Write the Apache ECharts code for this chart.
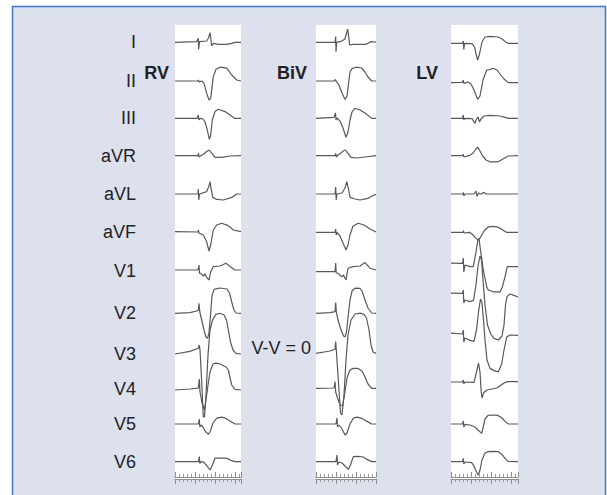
<!DOCTYPE html>
<html><head><meta charset="utf-8">
<script src="https://cdn.jsdelivr.net/npm/echarts@6/dist/echarts.min.js"></script>
<style>html,body{margin:0;padding:0;background:#fff}#c{width:607px;height:495px}</style>
</head><body><div id="c"></div>
<script>
// ---------- DATA ----------
const leads = ['I','II','III','aVR','aVL','aVF','V1','V2','V3','V4','V5','V6'];
const panels = ['RV','BiV','LV'];
const durations = [660, 600, 670]; // ms shown in each strip
const annotation = 'V-V = 0';
// each trace: [time (ms), amplitude (mV)]
const rvI = [[0,-0.02],[217,0.02],[233,0.19],[236,-0.37],[245,0.02],[317,0.05],[335,0.2],[350,0.47],[360,0.1],[367,-0.2],[383,-0.07],[433,-0.12],[517,-0.12],[567,-0.07],[600,-0.02],[660,-0.02]];
const rvII = [[0,0],[230,0],[235,0.05],[240,-0.05],[267,0],[290,-0.12],[317,-0.62],[340,-0.95],[357,-0.87],[383,0.22],[410,0.59],[450,0.69],[517,0.64],[567,0.3],[617,0.05],[660,0]];
const rvIII = [[0,-0.02],[220,-0.02],[233,0.15],[238,-0.1],[250,-0.02],[280,-0.05],[300,-0.19],[323,-0.6],[343,-1.07],[357,-0.85],[373,-0.1],[400,0.32],[433,0.44],[500,0.32],[550,0.15],[600,-0.02],[660,-0.02]];
const rvAVR = [[0,0.02],[230,0.02],[235,0.15],[240,-0.05],[283,0.09],[317,0.22],[343,0.3],[367,0.14],[400,-0.07],[467,-0.07],[550,0],[660,0.02]];
const rvAVL = [[0,0],[230,0],[233,0.25],[238,-0.3],[245,0],[317,0.12],[340,0.4],[350,0.62],[360,0.29],[377,-0.17],[417,-0.27],[483,-0.3],[567,-0.17],[617,0],[660,0]];
const rvAVF = [[0,0.02],[230,0],[233,0.1],[240,-0.05],[283,-0.15],[317,-0.49],[340,-0.95],[357,-0.65],[383,0.1],[417,0.35],[467,0.44],[533,0.32],[583,0.1],[660,0.02]];
const rvV1 = [[0,0.05],[230,0.05],[240,0.3],[245,-0.12],[257,-0.12],[283,-0.25],[300,-0.15],[317,-0.32],[340,-0.45],[357,-0.04],[383,0.22],[450,0.25],[510,0.39],[550,0.22],[600,0.05],[660,0.05]];
const rvV2 = [[0,-0.02],[150,0.02],[217,0.1],[235,0.15],[240,0.49],[248,0.05],[267,-0.35],[290,-0.85],[310,-1.2],[325,-1.27],[340,-1.0],[355,-0.1],[370,0.85],[390,1.18],[450,1.25],[520,1.2],[545,1.0],[570,0.5],[590,0.15],[610,0],[660,-0.02]];
const rvV3 = [[0,0],[150,0.13],[233,0.29],[243,0.45],[250,0.2],[265,-1.2],[283,-3.15],[295,-3.15],[310,-2.05],[330,-0.05],[350,1.2],[375,1.7],[410,1.98],[450,2.04],[490,1.95],[515,1.7],[533,1.2],[555,0.6],[580,0.2],[610,0.03],[660,0]];
const rvV4 = [[0,-0.05],[150,0],[233,0.04],[243,0.5],[250,-0.15],[270,-0.7],[295,-1.05],[310,-0.55],[330,0.2],[350,0.85],[380,1.25],[410,1.29],[450,1.25],[510,1.1],[533,0.95],[567,0.2],[600,-0.02],[660,-0.05]];
const rvV5 = [[0,0],[235,0],[243,0.25],[248,-0.15],[260,-0.05],[280,-0.15],[300,-0.35],[333,-0.52],[350,-0.4],[380,0.05],[417,0.29],[467,0.34],[510,0.28],[550,0.15],[600,0],[660,0]];
const rvV6 = [[0,0.02],[235,0.02],[243,0.27],[248,-0.07],[260,0.02],[290,-0.02],[320,-0.2],[350,-0.4],[370,-0.2],[400,0.19],[450,0.2],[517,0.19],[560,0.08],[600,0.02],[660,0.02]];

const bivI = [[0,-0.02],[190,-0.02],[197,0.27],[200,-0.49],[207,-0.02],[250,0.03],[290,0.15],[305,0.45],[317,0.64],[327,0.25],[337,-0.15],[370,-0.12],[490,-0.12],[520,-0.07],[547,0.02],[600,0]];
const bivII = [[0,0],[180,0],[193,0.07],[207,-0.05],[230,-0.2],[260,-0.6],[290,-0.92],[310,-0.75],[330,0.05],[340,0.45],[360,0.62],[400,0.69],[457,0.65],[490,0.45],[520,0.2],[557,0],[600,0]];
const bivIII = [[0,-0.02],[180,0.03],[195,0.25],[200,-0.1],[210,0],[240,-0.15],[270,-0.5],[300,-0.97],[320,-0.7],[340,-0.1],[360,0.3],[390,0.49],[440,0.4],[490,0.25],[557,-0.02],[600,-0.02]];
const bivAVR = [[0,0.02],[190,0.02],[197,0.13],[202,-0.05],[220,0.05],[250,0.15],[280,0.28],[295,0.3],[320,0.13],[350,-0.07],[410,-0.1],[490,-0.05],[600,0.02]];
const bivAVL = [[0,0],[190,0],[197,0.35],[202,-0.3],[210,0],[260,0.05],[290,0.3],[307,0.62],[325,0.25],[340,-0.17],[390,-0.25],[440,-0.3],[520,-0.22],[560,-0.1],[600,-0.02]];
const bivAVF = [[0,-0.02],[190,-0.02],[197,0.15],[202,-0.15],[210,-0.02],[240,-0.2],[270,-0.55],[300,-0.9],[320,-0.65],[340,-0.15],[370,0.3],[423,0.44],[480,0.35],[540,0.15],[600,0]];
const bivV1 = [[0,-0.03],[190,-0.03],[197,0.4],[202,-0.1],[223,-0.12],[257,-0.29],[273,-0.2],[300,-0.45],[320,0.14],[370,0.22],[440,0.25],[490,0.42],[540,0.14],[600,0.05]];
const bivV2 = [[0,-0.02],[140,0.02],[190,0.07],[197,0.52],[203,0.05],[220,-0.35],[250,-0.85],[275,-1.15],[290,-1.19],[305,-0.95],[320,-0.25],[340,0.65],[360,1.1],[390,1.24],[440,1.23],[460,1.1],[490,0.65],[520,0.25],[557,0],[600,-0.02]];
const bivV3 = [[0,0.03],[140,0.15],[190,0.24],[197,0.62],[203,0.2],[220,-1.05],[245,-2.95],[260,-3.05],[280,-2.05],[300,-0.3],[320,0.95],[350,1.7],[390,2.0],[447,2.04],[480,1.98],[505,1.8],[530,1.2],[550,0.45],[570,0.1],[600,0.03]];
const bivV4 = [[0,0.03],[180,0.05],[190,0.37],[197,-0.15],[215,-0.45],[240,-0.8],[265,-0.85],[285,-0.3],[310,0.55],[340,0.95],[370,1.03],[420,1.03],[460,0.9],[490,0.6],[520,0.25],[557,0.03],[600,0.03]];
const bivV5 = [[0,0],[200,0],[210,0.3],[215,-0.15],[230,-0.05],[260,-0.25],[290,-0.55],[310,-0.45],[340,0],[373,0.29],[410,0.34],[460,0.28],[510,0.13],[557,0],[600,0]];
const bivV6 = [[0,0.02],[200,0.02],[210,0.35],[215,-0.15],[230,0],[260,-0.05],[290,-0.2],[323,-0.37],[345,-0.15],[373,0.27],[420,0.28],[473,0.25],[510,0.13],[557,0.02],[600,0.02]];

const lvI = [[0,-0.07],[115,-0.07],[123,0.05],[128,-0.37],[135,-0.07],[210,-0.08],[235,-0.25],[255,-0.7],[267,-0.9],[285,-0.6],[310,0],[340,0.25],[390,0.28],[470,0.25],[510,0.15],[540,0.03],[573,-0.07],[670,-0.07]];
const lvII = [[0,-0.08],[110,-0.07],[123,0.03],[128,-0.12],[170,-0.05],[200,-0.15],[230,-0.45],[267,-0.92],[290,-0.75],[320,0.05],[357,0.55],[390,0.57],[420,0.64],[460,0.55],[490,0.35],[530,0.1],[573,-0.08],[670,-0.08]];
const lvIII = [[0,-0.02],[115,-0.02],[123,0.15],[128,-0.1],[140,-0.02],[210,-0.03],[240,-0.27],[255,-0.05],[270,0.05],[285,-0.2],[300,-0.05],[330,0.1],[390,0.13],[490,0.1],[540,0.03],[573,-0.02],[670,-0.02]];
const lvAVR = [[0,0.02],[120,0.02],[123,0.1],[128,-0.05],[190,0.03],[220,0.15],[250,0.35],[267,0.44],[290,0.25],[317,0],[350,-0.2],[390,-0.29],[470,-0.29],[520,-0.15],[570,0],[670,0.02]];
const lvAVL = [[0,0],[120,0],[123,0.08],[128,-0.1],[140,0],[230,0],[250,0.15],[260,-0.12],[275,0.05],[300,0],[330,0.08],[350,0],[670,0]];
const lvAVF = [[0,-0.02],[120,-0.02],[125,0.07],[130,-0.05],[190,-0.02],[220,-0.15],[250,-0.32],[270,-0.4],[290,-0.3],[330,0.05],[370,0.24],[420,0.28],[470,0.24],[510,0.13],[557,-0.02],[670,-0.02]];
const lvV1 = [[0,0.39],[115,0.38],[123,0.65],[128,-0.05],[140,0.3],[190,0.22],[223,0.22],[250,0.95],[267,1.5],[280,1.64],[290,1.22],[323,0.05],[357,-0.79],[373,-0.95],[423,-1.04],[490,-1.04],[510,-0.85],[540,-0.29],[563,0.22],[670,0.22]];
const lvV2 = [[0,0.99],[115,0.98],[123,1.15],[128,0.5],[140,0.65],[190,0.57],[225,0.63],[250,1.4],[270,2.35],[290,2.85],[305,2.65],[320,1.65],[340,0.4],[365,-0.6],[397,-1.05],[430,-1.27],[474,-1.35],[510,-1.15],[530,-0.6],[545,0.4],[560,0.82],[590,0.95],[630,0.88],[670,0.8]];
const lvV3 = [[0,1.04],[115,1.0],[123,1.2],[128,0.6],[140,0.8],[190,0.68],[230,0.63],[255,1.2],[275,2.1],[295,2.75],[310,2.55],[325,1.7],[340,0.7],[360,-0.3],[390,-0.72],[430,-0.83],[473,-0.89],[507,-0.5],[530,0.2],[557,0.85],[590,0.95],[670,0.93]];
const lvV4 = [[0,0.35],[115,0.35],[123,0.45],[128,0.25],[140,0.35],[230,0.33],[255,0.85],[275,1.29],[290,0.85],[302,-0.15],[310,-0.45],[325,-0.2],[357,-0.05],[410,0],[460,0.05],[500,0.2],[540,0.33],[570,0.37],[670,0.37]];
const lvV5 = [[0,0],[115,0],[123,0.15],[128,-0.15],[140,-0.02],[190,-0.05],[240,-0.15],[280,-0.35],[307,-0.47],[320,-0.2],[340,0.25],[370,0.43],[420,0.45],[470,0.43],[510,0.3],[540,0.13],[573,0],[670,0]];
const lvV6 = [[0,0.02],[115,0.02],[123,0.18],[128,-0.1],[140,0],[207,-0.03],[230,-0.2],[255,-0.5],[273,-0.65],[290,-0.4],[310,0.1],[340,0.45],[370,0.52],[420,0.53],[470,0.52],[510,0.38],[540,0.18],[570,0.03],[670,0.02]];

const traces = [
  [rvI, rvII, rvIII, rvAVR, rvAVL, rvAVF, rvV1, rvV2, rvV3, rvV4, rvV5, rvV6],
  [bivI, bivII, bivIII, bivAVR, bivAVL, bivAVF, bivV1, bivV2, bivV3, bivV4, bivV5, bivV6],
  [lvI, lvII, lvIII, lvAVR, lvAVL, lvAVF, lvV1, lvV2, lvV3, lvV4, lvV5, lvV6]
];

// ---------- LAYOUT ----------
const FONT = "'Liberation Sans', Arial, sans-serif";
const stripLeft = [175, 316, 451];
const stripTop = 25, stripHeight = 454;
const pxPerMs = 0.1;
const leadCenter = [42, 81, 118, 156, 194, 232, 271, 313, 354, 389, 424, 462];
const panelLabelRight = [169, 307, 438];
const panelLabelY = 73;

const grids = [], xAxes = [], yAxes = [], series = [];
panels.forEach((p, pi) => {
  const w = durations[pi] * pxPerMs;
  grids.push({left: stripLeft[pi], top: stripTop, width: w, height: stripHeight,
    show: true, backgroundColor: '#ffffff', borderWidth: 0});
  const gi = grids.length - 1;
  const ruler = (pos, off) => ({gridIndex: gi, type: 'value', min: 0, max: durations[pi], interval: 200,
    position: pos, offset: off,
    axisLine: {show: true, lineStyle: {color: '#8c8c8c', width: 1}},
    axisTick: {show: true, inside: true, length: 5, lineStyle: {color: '#8c8c8c'}},
    minorTick: {show: true, splitNumber: 5, length: 3, lineStyle: {color: '#9a9a9a'}},
    axisLabel: {show: false}, splitLine: {show: false}, minorSplitLine: {show: false}});
  xAxes.push(ruler('top', 0));
  xAxes.push(ruler('bottom', -2));
  yAxes.push({gridIndex: gi, type: 'value', show: false, min: 0, max: 1});
  leads.forEach((lead, li) => {
    grids.push({left: stripLeft[pi], width: w, top: leadCenter[li] - 20, height: 40});
    const g = grids.length - 1;
    xAxes.push({gridIndex: g, type: 'value', min: 0, max: durations[pi], show: false});
    yAxes.push({gridIndex: g, type: 'value', min: -1, max: 1, show: pi === 0,
      name: pi === 0 ? lead : '', nameLocation: 'middle', nameRotate: 0, nameGap: 39,
      nameTextStyle: {fontSize: 18, color: '#222', fontFamily: FONT},
      axisLine: {show: false}, axisTick: {show: false}, axisLabel: {show: false}, splitLine: {show: false}});
    series.push({type: 'line', xAxisIndex: xAxes.length - 1, yAxisIndex: yAxes.length - 1,
      data: traces[pi][li], showSymbol: false, clip: false, silent: true, z: 5,
      lineStyle: {color: '#585858', width: 1.2}});
  });
});

const graphics = [
  {type: 'rect', z: -10, silent: true, shape: {x: 12.5, y: 6.5, width: 593, height: 520},
   style: {fill: '#dde1ee', stroke: '#4277bd', lineWidth: 1.5}}
];
panels.forEach((p, pi) => graphics.push({type: 'text', x: panelLabelRight[pi], y: panelLabelY, z: 10,
  style: {text: p, fontSize: 18, fontWeight: 'bold', fontFamily: FONT, fill: '#222', align: 'right', verticalAlign: 'middle'}}));
graphics.push({type: 'text', x: 311, y: 348, z: 10,
  style: {text: annotation, fontSize: 18, fontFamily: FONT, fill: '#222', align: 'right', verticalAlign: 'middle'}});

const chart = echarts.init(document.getElementById('c'), null, {renderer: 'svg'});
chart.setOption({
  animation: false,
  backgroundColor: '#ffffff',
  graphic: graphics,
  grid: grids, xAxis: xAxes, yAxis: yAxes, series: series
});
</script></body></html>
